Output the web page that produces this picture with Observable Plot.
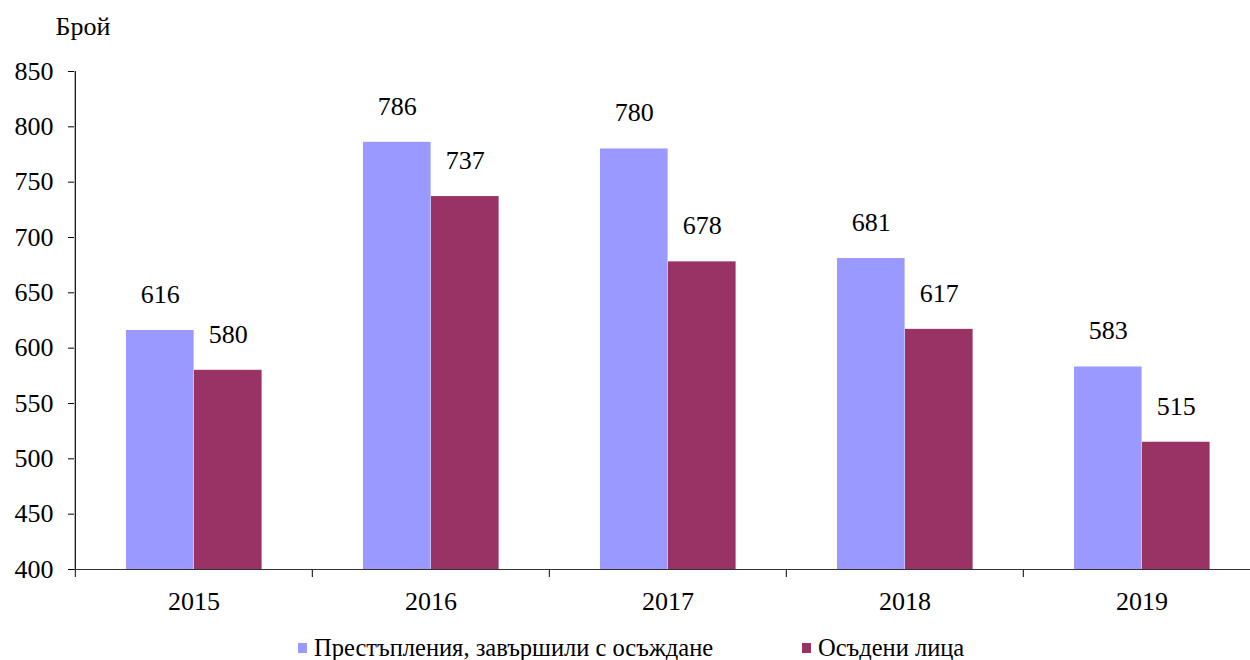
<!DOCTYPE html>
<html><head><meta charset="utf-8">
<script src="https://cdn.jsdelivr.net/npm/d3@7"></script>
<script src="https://cdn.jsdelivr.net/npm/@observablehq/plot@0.6"></script>
<style>
body{margin:0;background:#fff;font-family:"Liberation Serif","Times New Roman",serif;}
#wrap{position:relative;width:1250px;height:660px;overflow:hidden}
#wrap svg{overflow:visible}
#wrap svg text{font-family:"Liberation Serif","Times New Roman",serif;font-variant:normal}
.legend{position:absolute;top:636px;left:0;width:1250px;height:24px;font-size:24.5px;line-height:24px;color:#000}
.item{position:absolute;top:0;display:flex;align-items:center;height:24px;white-space:nowrap}
.sw{width:9px;height:10px;margin-right:7px}
</style></head><body><div id="wrap"></div>
<script>
const years = ["2015","2016","2017","2018","2019"];
const seriesNames = ["Престъпления, завършили с осъждане","Осъдени лица"];
const crimes = [616,786,780,681,583];
const convicted = [580,737,678,617,515];
const colors = ["#9999FF","#993366"];
const yTicks = [400,450,500,550,600,650,700,750,800,850];
const yLabel = "Брой";

const data = years.flatMap((y,i)=>[
  {year:y, series:seriesNames[0], value:crimes[i]},
  {year:y, series:seriesNames[1], value:convicted[i]}
]);
const d0 = data.filter(d=>d.series===seriesNames[0]);
const d1 = data.filter(d=>d.series===seriesNames[1]);

const x0 = 74, x1 = 1261;
const bw = (x1-x0)/years.length;
const pad = 51, barW = 68;

const font = 'Liberation Serif';
const chart = Plot.plot({
  width:1250, height:632,
  marginTop:71, marginBottom:63, marginLeft:74, marginRight:0,
  style:{fontFamily:font, fontSize:"26px", color:"#000", background:"#fff"},
  x:{domain:years, range:[x0,x1], padding:0, label:null},
  y:{domain:[yTicks[0], yTicks[yTicks.length-1]], label:null},
  marks:[
    Plot.barY(d0,{x:"year", y1:yTicks[0], y2:"value", fill:colors[0], insetLeft:pad, insetRight:bw-pad-barW}),
    Plot.barY(d1,{x:"year", y1:yTicks[0], y2:"value", fill:colors[1], insetLeft:pad+barW, insetRight:bw-pad-2*barW}),
    Plot.text(d0,{x:"year", y:"value", text:d=>String(d.value), dx:-(bw/2-pad-barW/2), dy:-36, lineAnchor:"middle", fontSize:26, fontFamily:font, fontVariant:"normal"}),
    Plot.text(d1,{x:"year", y:"value", text:d=>String(d.value), dx:(pad+barW*1.5)-bw/2, dy:-36, lineAnchor:"middle", fontSize:26, fontFamily:font, fontVariant:"normal"}),
    Plot.axisY({ticks:yTicks, tickSize:6, tickPadding:15, fontSize:26, fontFamily:font, fontVariant:"normal", stroke:"#000"}),
    Plot.axisX({tickSize:8, tickFormat:()=>"", dx:-bw/2, stroke:"#000"}),
    Plot.axisX({tickSize:0, tickPadding:22, fontSize:26, fontFamily:font}),
    Plot.ruleY([yTicks[0]],{stroke:"#333", strokeWidth:1.2}),
    Plot.ruleX([years[0]],{dx:-bw/2, stroke:"#000", strokeWidth:1.2}),
    Plot.text([yLabel],{frameAnchor:"top-left", text:d=>d, dx:-19, dy:-45, textAnchor:"start", lineAnchor:"middle", fontSize:26, fontFamily:font})
  ]
});
const wrap = document.getElementById("wrap");
wrap.appendChild(chart);

const legend = document.createElement("div");
legend.className = "legend";
const lpos = [298, 802];
seriesNames.forEach((s,i)=>{
  const it = document.createElement("div");
  it.className = "item";
  it.style.left = lpos[i]+"px";
  const sw = document.createElement("span");
  sw.className = "sw"; sw.style.background = colors[i];
  const t = document.createElement("span");
  t.textContent = s;
  it.appendChild(sw); it.appendChild(t);
  legend.appendChild(it);
});
wrap.appendChild(legend);
</script></body></html>
